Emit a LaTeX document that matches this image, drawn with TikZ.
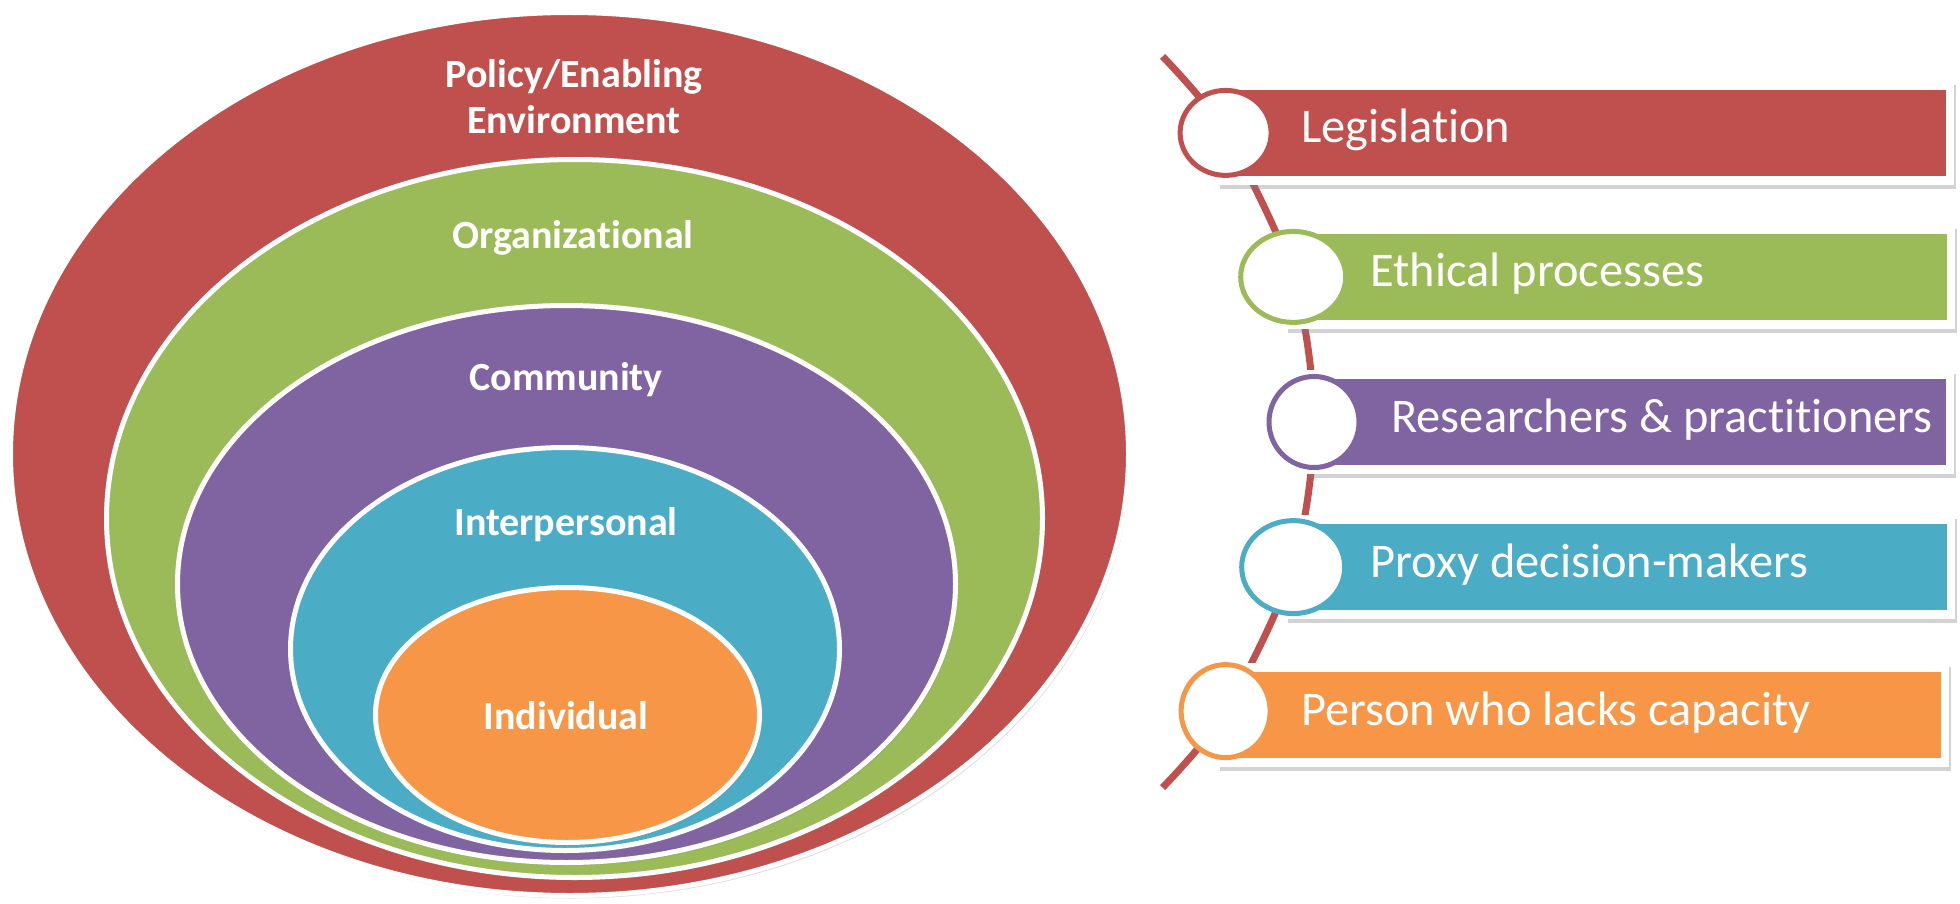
\documentclass[tikz,border=0pt]{standalone}
\usepackage{fontspec}
\setmainfont{Carlito}[Ligatures=NoCommon]
\usetikzlibrary{shapes.geometric,positioning,shadows}

\definecolor{policyred}{HTML}{C0504D}
\definecolor{orggreen}{HTML}{9BBB59}
\definecolor{commpurple}{HTML}{8064A2}
\definecolor{interteal}{HTML}{4BACC6}
\definecolor{indivorange}{HTML}{F79646}

\tikzset{
  layer/.style={ellipse, draw=white, line width=2.5pt, inner sep=0pt,
    drop shadow={opacity=0.25, shadow xshift=1pt, shadow yshift=-1.5pt}},
  layertext/.style={text=white, align=center, inner sep=0pt,
    font=\bfseries\fontsize{20}{23}\selectfont},
  barframe/.style={rectangle, fill=white, minimum height=52pt, inner sep=0pt,
    anchor=west, drop shadow={opacity=0.35, shadow xshift=1pt, shadow yshift=-2pt}},
  barfill/.style={rectangle, minimum height=43pt, inner sep=0pt, anchor=west},
  ring/.style={ellipse, fill=white, line width=2.5pt, inner sep=0pt},
  bartext/.style={text=white, inner sep=0pt, text height=16pt, text depth=6pt,
    font=\fontsize{24.2}{28}\selectfont},
  spine/.style={draw=policyred, line width=3.5pt}
}

\begin{document}
\begin{tikzpicture}[x=0.5pt,y=-0.5pt]
\useasboundingbox (0,0) rectangle (1960,904);

% nested levels
\node[layer, fill=policyred, minimum width=559pt, minimum height=441.5pt] (policy) at (569.5,454) {};
\node[layer, fill=orggreen, minimum width=468pt, minimum height=359pt] (organizational) at (574.5,518.5) {};
\node[layer, fill=commpurple, minimum width=389pt, minimum height=278.5pt] (community) at (566.5,584) {};
\node[layer, fill=interteal, minimum width=274.5pt, minimum height=201.5pt] (interpersonal) at (565,649) {};
\node[layer, fill=indivorange, minimum width=192pt, minimum height=127.5pt] (individual) at (567.5,715) {};

\node[layertext] (policylbl) at (574,97) {Policy/Enabling\\Environment};
\node[layertext, anchor=base] (orglbl) at (573,248) {Organizational};
\node[layertext, anchor=base] (commlbl) at (566,390) {Community};
\node[layertext, anchor=base] (interlbl) at (566,535) {Interpersonal};
\node[layertext, anchor=base] (indivlbl) at (566,729) {Individual};

% stakeholder spine
\coordinate (hub) at (797,422);
\coordinate (top) at ([shift={(-45:517)}]hub);
\coordinate (p1) at ([shift={(-34:517)}]hub);
\coordinate (p2) at ([shift={(-16.3:517)}]hub);
\coordinate (p3) at ([shift={(0:517)}]hub);
\coordinate (p4) at ([shift={(16.3:517)}]hub);
\coordinate (p5) at ([shift={(34:517)}]hub);
\coordinate (bot) at ([shift={(45:517)}]hub);

\draw[spine] plot[smooth] coordinates {(top) (p1) (p2) (p3) (p4) (p5) (bot)};

\node[barframe, minimum width=368pt] (f1) at ([xshift=-4pt]p1) {};
\node[barfill, fill=policyred, minimum width=360pt] (b1) at (p1) {};
\node[ring, draw=policyred, minimum width=45.5pt, minimum height=42.5pt] (r1) at (p1) {};
\node[bartext, right=37.5pt of p1] (t1) {Legislation};

\node[barframe, minimum width=334.5pt] (f2) at ([xshift=-4pt]p2) {};
\node[barfill, fill=orggreen, minimum width=326.5pt] (b2) at (p2) {};
\node[ring, draw=orggreen, minimum width=52.5pt, minimum height=45.5pt] (r2) at (p2) {};
\node[bartext, right=38.5pt of p2] (t2) {Ethical processes};

\node[barframe, minimum width=324pt] (f3) at ([xshift=-4pt]p3) {};
\node[barfill, fill=commpurple, minimum width=316pt] (b3) at (p3) {};
\node[ring, draw=commpurple, minimum width=45pt, minimum height=45.5pt] (r3) at (p3) {};
\node[bartext, right=38.5pt of p3] (t3) {Researchers \& practitioners};

\node[barframe, minimum width=334.5pt] (f4) at ([xshift=-4pt]p4) {};
\node[barfill, fill=interteal, minimum width=326.5pt] (b4) at (p4) {};
\node[ring, draw=interteal, minimum width=51.5pt, minimum height=46.5pt] (r4) at (p4) {};
\node[bartext, right=38.5pt of p4] (t4) {Proxy decision-makers};

\node[barframe, minimum width=365.5pt] (f5) at ([xshift=-4pt,yshift=-2pt]p5) {};
\node[barfill, fill=indivorange, minimum width=357.5pt] (b5) at ([yshift=-2pt]p5) {};
\node[ring, draw=indivorange, minimum width=44.5pt, minimum height=46.5pt] (r5) at (p5) {};
\node[bartext, right=37.5pt of b5.west] (t5) {Person who lacks capacity};
\end{tikzpicture}
\end{document}
